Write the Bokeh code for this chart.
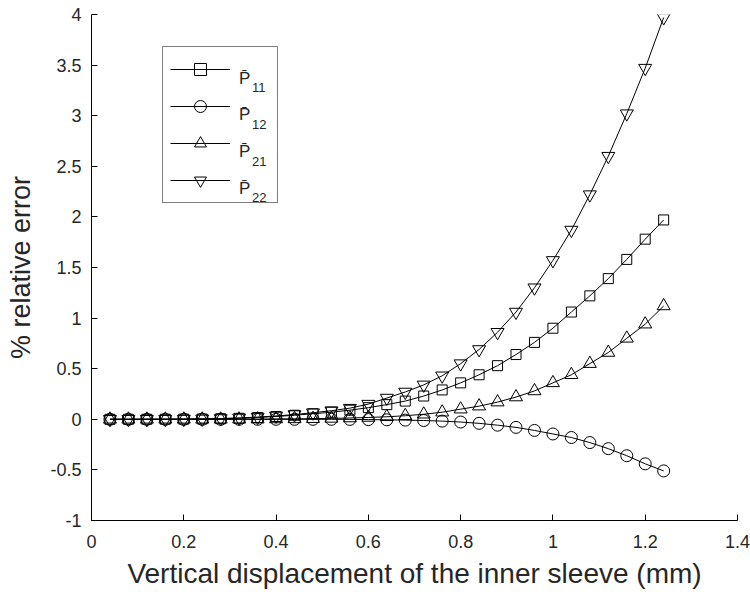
from bokeh.plotting import figure
from bokeh.models import (Range1d, FixedTicker, CustomJSTickFormatter, Legend, LegendItem, Label)
from bokeh.embed import file_html
from bokeh.resources import INLINE

# ---- data ----
disp = [0.04, 0.08, 0.12, 0.16, 0.20, 0.24, 0.28, 0.32, 0.36, 0.40,
        0.44, 0.48, 0.52, 0.56, 0.60, 0.64, 0.68, 0.72, 0.76, 0.80,
        0.84, 0.88, 0.92, 0.96, 1.00, 1.04, 1.08, 1.12, 1.16, 1.20, 1.24]

p11 = [0.0, 0.0, 0.0002, 0.0006, 0.0015, 0.003, 0.006, 0.01, 0.018, 0.028,
       0.04, 0.055, 0.07, 0.09, 0.115, 0.145, 0.18, 0.23, 0.29, 0.36,
       0.44, 0.53, 0.64, 0.76, 0.90, 1.06, 1.22, 1.39, 1.58, 1.78, 1.97]

p12 = [0.0, 0.0, 0.0, 0.0, 0.0, 0.0, 0.0, 0.0, 0.0, 0.0,
       0.0, 0.0, 0.0, -0.001, -0.003, -0.005, -0.008, -0.012, -0.018, -0.027,
       -0.04, -0.058, -0.08, -0.11, -0.145, -0.18, -0.23, -0.29, -0.36, -0.44, -0.51]

p21 = [0.0, 0.0, 0.0, 0.0, 0.0001, 0.0002, 0.0004, 0.0008, 0.0015, 0.003,
       0.004, 0.006, 0.009, 0.013, 0.018, 0.025, 0.035, 0.05, 0.07, 0.10,
       0.13, 0.17, 0.22, 0.28, 0.36, 0.44, 0.55, 0.66, 0.80, 0.94, 1.12]

p22 = [0.0, 0.0, 0.0003, 0.001, 0.002, 0.004, 0.008, 0.014, 0.022, 0.033,
       0.047, 0.065, 0.085, 0.11, 0.15, 0.21, 0.27, 0.34, 0.43, 0.55,
       0.69, 0.86, 1.06, 1.30, 1.57, 1.87, 2.22, 2.60, 3.02, 3.47, 3.97]

x_ticks = [0, 0.2, 0.4, 0.6, 0.8, 1.0, 1.2, 1.4]
y_ticks = [-1, -0.5, 0, 0.5, 1, 1.5, 2, 2.5, 3, 3.5, 4]
series_subs = ["11", "12", "21", "22"]

FONT = "Liberation Sans"
TXT = "#262626"

p = figure(width=750, height=592, output_backend="svg", toolbar_location=None,
           x_range=Range1d(0, 1.4), y_range=Range1d(-1, 4))
p.min_border_left = 91
p.min_border_right = 13
p.min_border_top = 14
p.min_border_bottom = 72
p.outline_line_color = None
p.xgrid.grid_line_color = None
p.ygrid.grid_line_color = None
p.background_fill_color = "white"
p.border_fill_color = "white"

fmt = CustomJSTickFormatter(code="return String(+tick.toFixed(2));")
for ax, ticks in ((p.xaxis[0], x_ticks), (p.yaxis[0], y_ticks)):
    ax.ticker = FixedTicker(ticks=ticks)
    ax.formatter = fmt
    ax.minor_tick_line_color = None
    ax.major_tick_in = 6
    ax.major_tick_out = 0
    ax.axis_line_color = "black"
    ax.major_tick_line_color = "black"
    ax.major_label_text_font = FONT
    ax.major_label_text_font_size = "18px"
    ax.major_label_text_color = TXT
    ax.axis_label_text_font = FONT
    ax.axis_label_text_font_style = "normal"
    ax.axis_label_text_color = TXT

p.xaxis.axis_label = "Vertical displacement of the inner sleeve (mm)"
p.yaxis.axis_label = "% relative error"
p.xaxis.axis_label_text_font_size = "28px"
p.yaxis.axis_label_text_font_size = "27px"
p.xaxis.major_label_standoff = 14
p.yaxis.major_label_standoff = 10
p.xaxis.axis_label_standoff = 7
p.yaxis.axis_label_standoff = 11

items = []
specs = [(p11, "square", 10), (p12, "circle", 12), (p21, "triangle", 13), (p22, "inverted_triangle", 13)]
for ys, marker, size in specs:
    ln = p.line(disp, ys, line_color="black", line_width=1)
    sc = p.scatter(disp, ys, marker=marker, size=size, line_color="black",
                   fill_alpha=0, line_width=1)
    items.append(LegendItem(label=" ", renderers=[ln, sc]))

legend = Legend(items=items, location=(71, 317), orientation="vertical",
                padding=7, spacing=7, glyph_width=60, glyph_height=30,
                label_height=30, label_width=35, label_standoff=5,
                border_line_color="black", border_line_width=1,
                background_fill_alpha=0, margin=0,
                label_text_font_size="10px")
p.add_layout(legend, "center")

# legend labels (P-bar with subscript), placed over the legend box
def dx(px):
    return (px - 91) / 461.43

def dy(py):
    return (418.8 - py) / 101.2

for i, sub in enumerate(series_subs):
    base = 77.8 + i * 36.6
    p.add_layout(Label(x=dx(238.5), y=dy(base), text="P\u0304", text_font=FONT,
                       text_font_size="17px", text_baseline="alphabetic",
                       text_color=TXT, level="overlay"))
    p.add_layout(Label(x=dx(251.5), y=dy(base + 9.5), text=sub, text_font=FONT,
                       text_font_size="13px", text_baseline="alphabetic",
                       text_color=TXT, level="overlay"))

open("out.html", "w").write(file_html(p, INLINE))
